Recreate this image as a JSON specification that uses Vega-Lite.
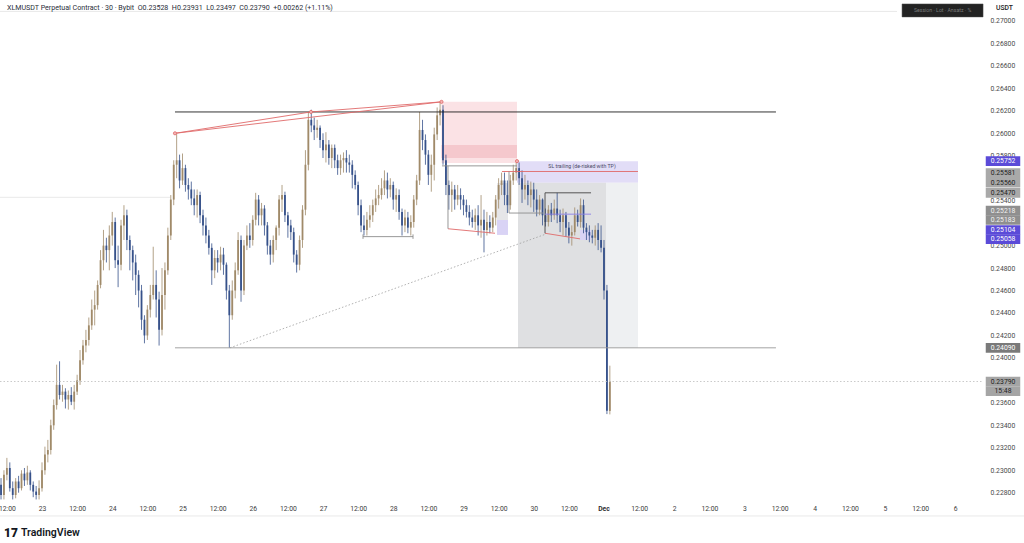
{
  "$schema": "https://vega.github.io/schema/vega-lite/v6.json",
  "description": "XLMUSDT perpetual, 30m, Bybit - TradingView style snapshot with drawings",
  "width": 983,
  "height": 488,
  "autosize": {"type": "none"},
  "padding": {"left": 0, "top": 12, "right": 41, "bottom": 43},
  "background": "#ffffff",
  "config": {"view": {"stroke": null}, "font": "Roboto"},
  "datasets": {
    "bars": [
      {"t":"2025-11-22T10:00:00Z","o":0.2287,"h":0.2293,"l":0.2274,"c":0.2278},
      {"t":"2025-11-22T11:00:00Z","o":0.2278,"h":0.2300,"l":0.2274,"c":0.2296},
      {"t":"2025-11-22T12:00:00Z","o":0.2296,"h":0.2311,"l":0.2291,"c":0.2302},
      {"t":"2025-11-22T13:00:00Z","o":0.2302,"h":0.2307,"l":0.2281,"c":0.2284},
      {"t":"2025-11-22T14:00:00Z","o":0.2284,"h":0.2290,"l":0.2274,"c":0.2278},
      {"t":"2025-11-22T15:00:00Z","o":0.2278,"h":0.2293,"l":0.2275,"c":0.2290},
      {"t":"2025-11-22T16:00:00Z","o":0.2290,"h":0.2295,"l":0.2280,"c":0.2284},
      {"t":"2025-11-22T17:00:00Z","o":0.2284,"h":0.2300,"l":0.2282,"c":0.2297},
      {"t":"2025-11-22T18:00:00Z","o":0.2297,"h":0.2302,"l":0.2286,"c":0.2291},
      {"t":"2025-11-22T19:00:00Z","o":0.2291,"h":0.2304,"l":0.2287,"c":0.2298},
      {"t":"2025-11-22T20:00:00Z","o":0.2298,"h":0.2300,"l":0.2282,"c":0.2287},
      {"t":"2025-11-22T21:00:00Z","o":0.2287,"h":0.2290,"l":0.2276,"c":0.2281},
      {"t":"2025-11-22T22:00:00Z","o":0.2281,"h":0.2286,"l":0.2274,"c":0.2278},
      {"t":"2025-11-22T23:00:00Z","o":0.2278,"h":0.2291,"l":0.2274,"c":0.2284},
      {"t":"2025-11-23T00:00:00Z","o":0.2284,"h":0.2307,"l":0.2281,"c":0.2300},
      {"t":"2025-11-23T01:00:00Z","o":0.2300,"h":0.2321,"l":0.2296,"c":0.2314},
      {"t":"2025-11-23T02:00:00Z","o":0.2314,"h":0.2327,"l":0.2307,"c":0.2318},
      {"t":"2025-11-23T03:00:00Z","o":0.2318,"h":0.2345,"l":0.2314,"c":0.2340},
      {"t":"2025-11-23T04:00:00Z","o":0.2340,"h":0.2363,"l":0.2336,"c":0.2358},
      {"t":"2025-11-23T05:00:00Z","o":0.2358,"h":0.2394,"l":0.2354,"c":0.2376},
      {"t":"2025-11-23T06:00:00Z","o":0.2376,"h":0.2397,"l":0.2363,"c":0.2367},
      {"t":"2025-11-23T07:00:00Z","o":0.2367,"h":0.2376,"l":0.2361,"c":0.2370},
      {"t":"2025-11-23T08:00:00Z","o":0.2370,"h":0.2373,"l":0.2355,"c":0.2363},
      {"t":"2025-11-23T09:00:00Z","o":0.2363,"h":0.2371,"l":0.2354,"c":0.2367},
      {"t":"2025-11-23T10:00:00Z","o":0.2367,"h":0.2374,"l":0.2358,"c":0.2361},
      {"t":"2025-11-23T11:00:00Z","o":0.2361,"h":0.2376,"l":0.2354,"c":0.2370},
      {"t":"2025-11-23T12:00:00Z","o":0.2370,"h":0.2385,"l":0.2367,"c":0.2380},
      {"t":"2025-11-23T13:00:00Z","o":0.2380,"h":0.2407,"l":0.2376,"c":0.2398},
      {"t":"2025-11-23T14:00:00Z","o":0.2398,"h":0.2416,"l":0.2394,"c":0.2411},
      {"t":"2025-11-23T15:00:00Z","o":0.2411,"h":0.2425,"l":0.2405,"c":0.2416},
      {"t":"2025-11-23T16:00:00Z","o":0.2416,"h":0.2436,"l":0.2411,"c":0.2429},
      {"t":"2025-11-23T17:00:00Z","o":0.2429,"h":0.2452,"l":0.2425,"c":0.2443},
      {"t":"2025-11-23T18:00:00Z","o":0.2443,"h":0.2460,"l":0.2429,"c":0.2447},
      {"t":"2025-11-23T19:00:00Z","o":0.2447,"h":0.2469,"l":0.2443,"c":0.2465},
      {"t":"2025-11-23T20:00:00Z","o":0.2465,"h":0.2496,"l":0.2462,"c":0.2487},
      {"t":"2025-11-23T21:00:00Z","o":0.2487,"h":0.2514,"l":0.2478,"c":0.2500},
      {"t":"2025-11-23T22:00:00Z","o":0.2500,"h":0.2507,"l":0.2485,"c":0.2496},
      {"t":"2025-11-23T23:00:00Z","o":0.2496,"h":0.2518,"l":0.2478,"c":0.2509},
      {"t":"2025-11-24T00:00:00Z","o":0.2509,"h":0.2530,"l":0.2500,"c":0.2521},
      {"t":"2025-11-24T01:00:00Z","o":0.2521,"h":0.2525,"l":0.2480,"c":0.2487},
      {"t":"2025-11-24T02:00:00Z","o":0.2487,"h":0.2500,"l":0.2463,"c":0.2483},
      {"t":"2025-11-24T03:00:00Z","o":0.2483,"h":0.2523,"l":0.2478,"c":0.2518},
      {"t":"2025-11-24T04:00:00Z","o":0.2518,"h":0.2536,"l":0.2505,"c":0.2527},
      {"t":"2025-11-24T05:00:00Z","o":0.2527,"h":0.2532,"l":0.2496,"c":0.2505},
      {"t":"2025-11-24T06:00:00Z","o":0.2505,"h":0.2509,"l":0.2478,"c":0.2496},
      {"t":"2025-11-24T07:00:00Z","o":0.2496,"h":0.2500,"l":0.2469,"c":0.2485},
      {"t":"2025-11-24T08:00:00Z","o":0.2485,"h":0.2492,"l":0.2456,"c":0.2474},
      {"t":"2025-11-24T09:00:00Z","o":0.2474,"h":0.2478,"l":0.2445,"c":0.2460},
      {"t":"2025-11-24T10:00:00Z","o":0.2460,"h":0.2465,"l":0.2425,"c":0.2434},
      {"t":"2025-11-24T11:00:00Z","o":0.2434,"h":0.2438,"l":0.2413,"c":0.2420},
      {"t":"2025-11-24T12:00:00Z","o":0.2420,"h":0.2447,"l":0.2416,"c":0.2443},
      {"t":"2025-11-24T13:00:00Z","o":0.2443,"h":0.2465,"l":0.2436,"c":0.2456},
      {"t":"2025-11-24T14:00:00Z","o":0.2456,"h":0.2499,"l":0.2452,"c":0.2465},
      {"t":"2025-11-24T15:00:00Z","o":0.2465,"h":0.2478,"l":0.2436,"c":0.2452},
      {"t":"2025-11-24T16:00:00Z","o":0.2452,"h":0.2459,"l":0.2411,"c":0.2425},
      {"t":"2025-11-24T17:00:00Z","o":0.2425,"h":0.2480,"l":0.2420,"c":0.2456},
      {"t":"2025-11-24T18:00:00Z","o":0.2456,"h":0.2485,"l":0.2443,"c":0.2478},
      {"t":"2025-11-24T19:00:00Z","o":0.2478,"h":0.2516,"l":0.2474,"c":0.2509},
      {"t":"2025-11-24T20:00:00Z","o":0.2509,"h":0.2545,"l":0.2505,"c":0.2541},
      {"t":"2025-11-24T21:00:00Z","o":0.2541,"h":0.2576,"l":0.2536,"c":0.2572},
      {"t":"2025-11-24T22:00:00Z","o":0.2572,"h":0.2600,"l":0.2560,"c":0.2576},
      {"t":"2025-11-24T23:00:00Z","o":0.2576,"h":0.2581,"l":0.2551,"c":0.2558},
      {"t":"2025-11-25T00:00:00Z","o":0.2558,"h":0.2582,"l":0.2554,"c":0.2569},
      {"t":"2025-11-25T01:00:00Z","o":0.2569,"h":0.2572,"l":0.2548,"c":0.2554},
      {"t":"2025-11-25T02:00:00Z","o":0.2554,"h":0.2560,"l":0.2541,"c":0.2550},
      {"t":"2025-11-25T03:00:00Z","o":0.2550,"h":0.2557,"l":0.2536,"c":0.2542},
      {"t":"2025-11-25T04:00:00Z","o":0.2542,"h":0.2550,"l":0.2527,"c":0.2536},
      {"t":"2025-11-25T05:00:00Z","o":0.2536,"h":0.2550,"l":0.2525,"c":0.2545},
      {"t":"2025-11-25T06:00:00Z","o":0.2545,"h":0.2548,"l":0.2520,"c":0.2527},
      {"t":"2025-11-25T07:00:00Z","o":0.2527,"h":0.2532,"l":0.2509,"c":0.2518},
      {"t":"2025-11-25T08:00:00Z","o":0.2518,"h":0.2525,"l":0.2502,"c":0.2509},
      {"t":"2025-11-25T09:00:00Z","o":0.2509,"h":0.2514,"l":0.2492,"c":0.2498},
      {"t":"2025-11-25T10:00:00Z","o":0.2498,"h":0.2502,"l":0.2465,"c":0.2478},
      {"t":"2025-11-25T11:00:00Z","o":0.2478,"h":0.2496,"l":0.2471,"c":0.2489},
      {"t":"2025-11-25T12:00:00Z","o":0.2489,"h":0.2496,"l":0.2476,"c":0.2485},
      {"t":"2025-11-25T13:00:00Z","o":0.2485,"h":0.2499,"l":0.2478,"c":0.2492},
      {"t":"2025-11-25T14:00:00Z","o":0.2492,"h":0.2498,"l":0.2474,"c":0.2483},
      {"t":"2025-11-25T15:00:00Z","o":0.2483,"h":0.2485,"l":0.2452,"c":0.2460},
      {"t":"2025-11-25T16:00:00Z","o":0.2460,"h":0.2465,"l":0.2409,"c":0.2438},
      {"t":"2025-11-25T17:00:00Z","o":0.2438,"h":0.2469,"l":0.2434,"c":0.2460},
      {"t":"2025-11-25T18:00:00Z","o":0.2460,"h":0.2485,"l":0.2453,"c":0.2478},
      {"t":"2025-11-25T19:00:00Z","o":0.2478,"h":0.2512,"l":0.2474,"c":0.2505},
      {"t":"2025-11-25T20:00:00Z","o":0.2505,"h":0.2509,"l":0.2450,"c":0.2460},
      {"t":"2025-11-25T21:00:00Z","o":0.2460,"h":0.2505,"l":0.2456,"c":0.2500},
      {"t":"2025-11-25T22:00:00Z","o":0.2500,"h":0.2518,"l":0.2496,"c":0.2509},
      {"t":"2025-11-25T23:00:00Z","o":0.2509,"h":0.2520,"l":0.2498,"c":0.2505},
      {"t":"2025-11-26T00:00:00Z","o":0.2505,"h":0.2527,"l":0.2500,"c":0.2523},
      {"t":"2025-11-26T01:00:00Z","o":0.2523,"h":0.2547,"l":0.2518,"c":0.2541},
      {"t":"2025-11-26T02:00:00Z","o":0.2541,"h":0.2545,"l":0.2518,"c":0.2527},
      {"t":"2025-11-26T03:00:00Z","o":0.2527,"h":0.2538,"l":0.2518,"c":0.2533},
      {"t":"2025-11-26T04:00:00Z","o":0.2533,"h":0.2536,"l":0.2509,"c":0.2518},
      {"t":"2025-11-26T05:00:00Z","o":0.2518,"h":0.2521,"l":0.2492,"c":0.2500},
      {"t":"2025-11-26T06:00:00Z","o":0.2500,"h":0.2505,"l":0.2483,"c":0.2492},
      {"t":"2025-11-26T07:00:00Z","o":0.2492,"h":0.2509,"l":0.2485,"c":0.2505},
      {"t":"2025-11-26T08:00:00Z","o":0.2505,"h":0.2518,"l":0.2496,"c":0.2516},
      {"t":"2025-11-26T09:00:00Z","o":0.2516,"h":0.2545,"l":0.2509,"c":0.2541},
      {"t":"2025-11-26T10:00:00Z","o":0.2541,"h":0.2554,"l":0.2530,"c":0.2545},
      {"t":"2025-11-26T11:00:00Z","o":0.2545,"h":0.2548,"l":0.2521,"c":0.2527},
      {"t":"2025-11-26T12:00:00Z","o":0.2527,"h":0.2530,"l":0.2507,"c":0.2518},
      {"t":"2025-11-26T13:00:00Z","o":0.2518,"h":0.2523,"l":0.2505,"c":0.2512},
      {"t":"2025-11-26T14:00:00Z","o":0.2512,"h":0.2516,"l":0.2485,"c":0.2492},
      {"t":"2025-11-26T15:00:00Z","o":0.2492,"h":0.2496,"l":0.2476,"c":0.2483},
      {"t":"2025-11-26T16:00:00Z","o":0.2483,"h":0.2509,"l":0.2478,"c":0.2505},
      {"t":"2025-11-26T17:00:00Z","o":0.2505,"h":0.2536,"l":0.2498,"c":0.2532},
      {"t":"2025-11-26T18:00:00Z","o":0.2532,"h":0.2585,"l":0.2527,"c":0.2572},
      {"t":"2025-11-26T19:00:00Z","o":0.2572,"h":0.2619,"l":0.2567,"c":0.2612},
      {"t":"2025-11-26T20:00:00Z","o":0.2612,"h":0.2621,"l":0.2601,"c":0.2607},
      {"t":"2025-11-26T21:00:00Z","o":0.2607,"h":0.2614,"l":0.2594,"c":0.2603},
      {"t":"2025-11-26T22:00:00Z","o":0.2603,"h":0.2612,"l":0.2596,"c":0.2605},
      {"t":"2025-11-26T23:00:00Z","o":0.2605,"h":0.2607,"l":0.2587,"c":0.2594},
      {"t":"2025-11-27T00:00:00Z","o":0.2594,"h":0.2600,"l":0.2578,"c":0.2585},
      {"t":"2025-11-27T01:00:00Z","o":0.2585,"h":0.2601,"l":0.2574,"c":0.2590},
      {"t":"2025-11-27T02:00:00Z","o":0.2590,"h":0.2594,"l":0.2572,"c":0.2578},
      {"t":"2025-11-27T03:00:00Z","o":0.2578,"h":0.2590,"l":0.2569,"c":0.2587},
      {"t":"2025-11-27T04:00:00Z","o":0.2587,"h":0.2590,"l":0.2569,"c":0.2576},
      {"t":"2025-11-27T05:00:00Z","o":0.2576,"h":0.2581,"l":0.2563,"c":0.2569},
      {"t":"2025-11-27T06:00:00Z","o":0.2569,"h":0.2581,"l":0.2563,"c":0.2576},
      {"t":"2025-11-27T07:00:00Z","o":0.2576,"h":0.2583,"l":0.2565,"c":0.2578},
      {"t":"2025-11-27T08:00:00Z","o":0.2578,"h":0.2585,"l":0.2565,"c":0.2574},
      {"t":"2025-11-27T09:00:00Z","o":0.2574,"h":0.2581,"l":0.2565,"c":0.2572},
      {"t":"2025-11-27T10:00:00Z","o":0.2572,"h":0.2576,"l":0.2551,"c":0.2563},
      {"t":"2025-11-27T11:00:00Z","o":0.2563,"h":0.2567,"l":0.2550,"c":0.2554},
      {"t":"2025-11-27T12:00:00Z","o":0.2554,"h":0.2557,"l":0.2527,"c":0.2536},
      {"t":"2025-11-27T13:00:00Z","o":0.2536,"h":0.2541,"l":0.2512,"c":0.2518},
      {"t":"2025-11-27T14:00:00Z","o":0.2518,"h":0.2527,"l":0.2509,"c":0.2514},
      {"t":"2025-11-27T15:00:00Z","o":0.2514,"h":0.2530,"l":0.2509,"c":0.2523},
      {"t":"2025-11-27T16:00:00Z","o":0.2523,"h":0.2536,"l":0.2516,"c":0.2527},
      {"t":"2025-11-27T17:00:00Z","o":0.2527,"h":0.2541,"l":0.2521,"c":0.2536},
      {"t":"2025-11-27T18:00:00Z","o":0.2536,"h":0.2550,"l":0.2530,"c":0.2542},
      {"t":"2025-11-27T19:00:00Z","o":0.2542,"h":0.2554,"l":0.2536,"c":0.2545},
      {"t":"2025-11-27T20:00:00Z","o":0.2545,"h":0.2560,"l":0.2541,"c":0.2551},
      {"t":"2025-11-27T21:00:00Z","o":0.2551,"h":0.2567,"l":0.2545,"c":0.2558},
      {"t":"2025-11-27T22:00:00Z","o":0.2558,"h":0.2565,"l":0.2542,"c":0.2550},
      {"t":"2025-11-27T23:00:00Z","o":0.2550,"h":0.2560,"l":0.2543,"c":0.2554},
      {"t":"2025-11-28T00:00:00Z","o":0.2554,"h":0.2557,"l":0.2532,"c":0.2541},
      {"t":"2025-11-28T01:00:00Z","o":0.2541,"h":0.2551,"l":0.2530,"c":0.2545},
      {"t":"2025-11-28T02:00:00Z","o":0.2545,"h":0.2550,"l":0.2523,"c":0.2530},
      {"t":"2025-11-28T03:00:00Z","o":0.2530,"h":0.2533,"l":0.2509,"c":0.2518},
      {"t":"2025-11-28T04:00:00Z","o":0.2518,"h":0.2532,"l":0.2512,"c":0.2525},
      {"t":"2025-11-28T05:00:00Z","o":0.2525,"h":0.2530,"l":0.2511,"c":0.2516},
      {"t":"2025-11-28T06:00:00Z","o":0.2516,"h":0.2527,"l":0.2509,"c":0.2521},
      {"t":"2025-11-28T07:00:00Z","o":0.2521,"h":0.2545,"l":0.2516,"c":0.2541},
      {"t":"2025-11-28T08:00:00Z","o":0.2541,"h":0.2563,"l":0.2536,"c":0.2558},
      {"t":"2025-11-28T09:00:00Z","o":0.2558,"h":0.2619,"l":0.2554,"c":0.2603},
      {"t":"2025-11-28T10:00:00Z","o":0.2603,"h":0.2612,"l":0.2585,"c":0.2594},
      {"t":"2025-11-28T11:00:00Z","o":0.2594,"h":0.2599,"l":0.2572,"c":0.2581},
      {"t":"2025-11-28T12:00:00Z","o":0.2581,"h":0.2585,"l":0.2554,"c":0.2563},
      {"t":"2025-11-28T13:00:00Z","o":0.2563,"h":0.2581,"l":0.2548,"c":0.2572},
      {"t":"2025-11-28T14:00:00Z","o":0.2572,"h":0.2605,"l":0.2558,"c":0.2599},
      {"t":"2025-11-28T15:00:00Z","o":0.2599,"h":0.2623,"l":0.2594,"c":0.2616},
      {"t":"2025-11-28T16:00:00Z","o":0.2616,"h":0.2628,"l":0.2607,"c":0.2621},
      {"t":"2025-11-28T17:00:00Z","o":0.2621,"h":0.2625,"l":0.2572,"c":0.2576},
      {"t":"2025-11-28T18:00:00Z","o":0.2576,"h":0.2581,"l":0.2545,"c":0.2554},
      {"t":"2025-11-28T19:00:00Z","o":0.2554,"h":0.2558,"l":0.2532,"c":0.2545},
      {"t":"2025-11-28T20:00:00Z","o":0.2545,"h":0.2557,"l":0.2530,"c":0.2550},
      {"t":"2025-11-28T21:00:00Z","o":0.2550,"h":0.2554,"l":0.2532,"c":0.2541},
      {"t":"2025-11-28T22:00:00Z","o":0.2541,"h":0.2554,"l":0.2536,"c":0.2545},
      {"t":"2025-11-28T23:00:00Z","o":0.2545,"h":0.2551,"l":0.2532,"c":0.2541},
      {"t":"2025-11-29T00:00:00Z","o":0.2541,"h":0.2545,"l":0.2527,"c":0.2536},
      {"t":"2025-11-29T01:00:00Z","o":0.2536,"h":0.2541,"l":0.2525,"c":0.2530},
      {"t":"2025-11-29T02:00:00Z","o":0.2530,"h":0.2536,"l":0.2518,"c":0.2525},
      {"t":"2025-11-29T03:00:00Z","o":0.2525,"h":0.2532,"l":0.2516,"c":0.2521},
      {"t":"2025-11-29T04:00:00Z","o":0.2521,"h":0.2533,"l":0.2514,"c":0.2527},
      {"t":"2025-11-29T05:00:00Z","o":0.2527,"h":0.2536,"l":0.2509,"c":0.2518},
      {"t":"2025-11-29T06:00:00Z","o":0.2518,"h":0.2545,"l":0.2507,"c":0.2523},
      {"t":"2025-11-29T07:00:00Z","o":0.2523,"h":0.2532,"l":0.2494,"c":0.2514},
      {"t":"2025-11-29T08:00:00Z","o":0.2514,"h":0.2530,"l":0.2509,"c":0.2521},
      {"t":"2025-11-29T09:00:00Z","o":0.2521,"h":0.2527,"l":0.2511,"c":0.2516},
      {"t":"2025-11-29T10:00:00Z","o":0.2516,"h":0.2530,"l":0.2512,"c":0.2525},
      {"t":"2025-11-29T11:00:00Z","o":0.2525,"h":0.2545,"l":0.2518,"c":0.2541},
      {"t":"2025-11-29T12:00:00Z","o":0.2541,"h":0.2560,"l":0.2533,"c":0.2554},
      {"t":"2025-11-29T13:00:00Z","o":0.2554,"h":0.2565,"l":0.2545,"c":0.2558},
      {"t":"2025-11-29T14:00:00Z","o":0.2558,"h":0.2565,"l":0.2536,"c":0.2545},
      {"t":"2025-11-29T15:00:00Z","o":0.2545,"h":0.2558,"l":0.2529,"c":0.2536},
      {"t":"2025-11-29T16:00:00Z","o":0.2536,"h":0.2563,"l":0.2532,"c":0.2558},
      {"t":"2025-11-29T17:00:00Z","o":0.2558,"h":0.2572,"l":0.2554,"c":0.2565},
      {"t":"2025-11-29T18:00:00Z","o":0.2565,"h":0.2574,"l":0.2558,"c":0.2569},
      {"t":"2025-11-29T19:00:00Z","o":0.2569,"h":0.2574,"l":0.2554,"c":0.2560},
      {"t":"2025-11-29T20:00:00Z","o":0.2560,"h":0.2567,"l":0.2538,"c":0.2550},
      {"t":"2025-11-29T21:00:00Z","o":0.2550,"h":0.2563,"l":0.2541,"c":0.2554},
      {"t":"2025-11-29T22:00:00Z","o":0.2554,"h":0.2558,"l":0.2536,"c":0.2545},
      {"t":"2025-11-29T23:00:00Z","o":0.2545,"h":0.2557,"l":0.2534,"c":0.2550},
      {"t":"2025-11-30T00:00:00Z","o":0.2550,"h":0.2556,"l":0.2530,"c":0.2541},
      {"t":"2025-11-30T01:00:00Z","o":0.2541,"h":0.2550,"l":0.2526,"c":0.2532},
      {"t":"2025-11-30T02:00:00Z","o":0.2532,"h":0.2545,"l":0.2527,"c":0.2541},
      {"t":"2025-11-30T03:00:00Z","o":0.2541,"h":0.2542,"l":0.2518,"c":0.2527},
      {"t":"2025-11-30T04:00:00Z","o":0.2527,"h":0.2533,"l":0.2517,"c":0.2521},
      {"t":"2025-11-30T05:00:00Z","o":0.2521,"h":0.2536,"l":0.2517,"c":0.2532},
      {"t":"2025-11-30T06:00:00Z","o":0.2532,"h":0.2538,"l":0.2521,"c":0.2527},
      {"t":"2025-11-30T07:00:00Z","o":0.2527,"h":0.2541,"l":0.2523,"c":0.2533},
      {"t":"2025-11-30T08:00:00Z","o":0.2533,"h":0.2547,"l":0.2520,"c":0.2527},
      {"t":"2025-11-30T09:00:00Z","o":0.2527,"h":0.2532,"l":0.2512,"c":0.2521},
      {"t":"2025-11-30T10:00:00Z","o":0.2521,"h":0.2533,"l":0.2509,"c":0.2527},
      {"t":"2025-11-30T11:00:00Z","o":0.2527,"h":0.2530,"l":0.2508,"c":0.2516},
      {"t":"2025-11-30T12:00:00Z","o":0.2516,"h":0.2521,"l":0.2502,"c":0.2509},
      {"t":"2025-11-30T13:00:00Z","o":0.2509,"h":0.2518,"l":0.2500,"c":0.2512},
      {"t":"2025-11-30T14:00:00Z","o":0.2512,"h":0.2534,"l":0.2509,"c":0.2527},
      {"t":"2025-11-30T15:00:00Z","o":0.2527,"h":0.2532,"l":0.2517,"c":0.2521},
      {"t":"2025-11-30T16:00:00Z","o":0.2521,"h":0.2542,"l":0.2516,"c":0.2536},
      {"t":"2025-11-30T17:00:00Z","o":0.2536,"h":0.2541,"l":0.2511,"c":0.2516},
      {"t":"2025-11-30T18:00:00Z","o":0.2516,"h":0.2520,"l":0.2505,"c":0.2512},
      {"t":"2025-11-30T19:00:00Z","o":0.2512,"h":0.2518,"l":0.2503,"c":0.2509},
      {"t":"2025-11-30T20:00:00Z","o":0.2509,"h":0.2514,"l":0.2502,"c":0.2507},
      {"t":"2025-11-30T21:00:00Z","o":0.2507,"h":0.2518,"l":0.2500,"c":0.2514},
      {"t":"2025-11-30T22:00:00Z","o":0.2514,"h":0.2520,"l":0.2496,"c":0.2505},
      {"t":"2025-11-30T23:00:00Z","o":0.2505,"h":0.2518,"l":0.2494,"c":0.2498},
      {"t":"2025-12-01T00:00:00Z","o":0.2498,"h":0.2505,"l":0.2452,"c":0.2460},
      {"t":"2025-12-01T01:00:00Z","o":0.2460,"h":0.2465,"l":0.2350,"c":0.2353},
      {"t":"2025-12-01T02:00:00Z","o":0.23528,"h":0.23931,"l":0.23497,"c":0.2379}
    ],
    "zones": [
      {"k":"pinkL","t":"2025-11-28T16:29:00Z","t2":"2025-11-29T18:17:00Z","p":0.2628,"p2":0.25735},
      {"k":"pinkD","t":"2025-11-28T16:29:00Z","t2":"2025-11-29T18:17:00Z","p":0.25895,"p2":0.2578},
      {"k":"sl","t":"2025-11-29T18:17:00Z","t2":"2025-12-01T11:37:00Z","p":0.25752,"p2":0.2556},
      {"k":"greyD","t":"2025-11-29T18:37:00Z","t2":"2025-12-01T00:42:00Z","p":0.2556,"p2":0.2409},
      {"k":"greyL","t":"2025-12-01T00:42:00Z","t2":"2025-12-01T11:37:00Z","p":0.2556,"p2":0.2409},
      {"k":"greyS","t":"2025-11-29T11:27:00Z","t2":"2025-11-29T15:12:00Z","p":0.25557,"p2":0.25228},
      {"k":"purS","t":"2025-11-29T11:27:00Z","t2":"2025-11-29T15:12:00Z","p":0.25228,"p2":0.25095},
      {"k":"purS","t":"2025-11-30T15:48:00Z","t2":"2025-11-30T19:34:00Z","p":0.25139,"p2":0.2505}
    ],
    "segs": [
      {"k":"blk","t":"2025-11-24T21:26:00Z","t2":"2025-12-03T10:45:00Z","p":0.2619,"p2":0.2619},
      {"k":"gry","t":"2025-11-24T21:26:00Z","t2":"2025-12-03T10:45:00Z","p":0.2409,"p2":0.2409},
      {"k":"red","t":"2025-11-24T21:26:00Z","t2":"2025-11-28T16:29:00Z","p":0.2600,"p2":0.2628},
      {"k":"red","t":"2025-11-24T21:26:00Z","t2":"2025-11-26T19:54:00Z","p":0.2600,"p2":0.2619},
      {"k":"red","t":"2025-11-26T19:54:00Z","t2":"2025-11-28T16:29:00Z","p":0.2619,"p2":0.2628},
      {"k":"red","t":"2025-11-29T13:09:00Z","t2":"2025-12-01T11:37:00Z","p":0.2566,"p2":0.2566},
      {"k":"red","t":"2025-11-28T18:42:00Z","t2":"2025-11-29T10:46:00Z","p":0.2515,"p2":0.2511},
      {"k":"red","t":"2025-11-30T03:51:00Z","t2":"2025-11-30T15:48:00Z","p":0.2511,"p2":0.2506},
      {"k":"lg","t":"2025-11-28T16:39:00Z","t2":"2025-11-29T18:17:00Z","p":0.2571,"p2":0.2571},
      {"k":"lg","t":"2025-11-28T18:42:00Z","t2":"2025-11-28T18:42:00Z","p":0.2571,"p2":0.2515},
      {"k":"lg","t":"2025-11-29T15:33:00Z","t2":"2025-11-29T15:33:00Z","p":0.2566,"p2":0.2529},
      {"k":"lg","t":"2025-11-29T15:33:00Z","t2":"2025-11-30T03:10:00Z","p":0.2529,"p2":0.2529},
      {"k":"lg","t":"2025-11-27T13:40:00Z","t2":"2025-11-28T06:45:00Z","p":0.2508,"p2":0.2508},
      {"k":"lg","t":"2025-11-27T13:40:00Z","t2":"2025-11-27T13:40:00Z","p":0.2510,"p2":0.2506},
      {"k":"lg","t":"2025-11-28T06:45:00Z","t2":"2025-11-28T06:45:00Z","p":0.2510,"p2":0.2506},
      {"k":"dk","t":"2025-11-30T03:51:00Z","t2":"2025-11-30T19:34:00Z","p":0.2547,"p2":0.2547},
      {"k":"dk","t":"2025-11-30T03:51:00Z","t2":"2025-11-30T03:51:00Z","p":0.2547,"p2":0.2511},
      {"k":"pu","t":"2025-11-30T03:51:00Z","t2":"2025-11-30T19:34:00Z","p":0.2528,"p2":0.2528},
      {"k":"fnt","t":"2025-11-22T09:39:00Z","t2":"2025-11-24T19:44:00Z","p":0.2543,"p2":0.2543},
      {"k":"fnt","t":"2025-11-22T09:39:00Z","t2":"2025-12-05T04:06:00Z","p":0.27085,"p2":0.27085},
      {"k":"fnt","t":"2025-11-22T09:39:00Z","t2":"2025-12-06T23:30:00Z","p":0.22593,"p2":0.22593},
      {"k":"dot","t":"2025-11-25T16:14:00Z","t2":"2025-11-30T03:51:00Z","p":0.2409,"p2":0.2510},
      {"k":"cur","t":"2025-11-22T09:39:00Z","t2":"2025-12-06T09:29:00Z","p":0.2379,"p2":0.2379}
    ],
    "pts": [
      {"t":"2025-11-24T21:26:00Z","p":0.2600},
      {"t":"2025-11-26T19:54:00Z","p":0.2619},
      {"t":"2025-11-28T16:29:00Z","p":0.2628},
      {"t":"2025-11-29T18:17:00Z","p":0.25752}
    ],
    "tags": [
      {"k":"pur","t":"2025-12-06T16:19:00Z","p":0.25752,"txt":"0.25752"},
      {"k":"g1","t":"2025-12-06T16:19:00Z","p":0.25646,"txt":"0.25581"},
      {"k":"g1","t":"2025-12-06T16:19:00Z","p":0.2556,"txt":"0.25560"},
      {"k":"g1","t":"2025-12-06T16:19:00Z","p":0.2547,"txt":"0.25470"},
      {"k":"g2","t":"2025-12-06T16:19:00Z","p":0.25311,"txt":"0.25218"},
      {"k":"g2","t":"2025-12-06T16:19:00Z","p":0.25228,"txt":"0.25183"},
      {"k":"pur","t":"2025-12-06T16:19:00Z","p":0.25139,"txt":"0.25104"},
      {"k":"pur","t":"2025-12-06T16:19:00Z","p":0.25057,"txt":"0.25058"},
      {"k":"g3","t":"2025-12-06T16:19:00Z","p":0.2409,"txt":"0.24090"},
      {"k":"cur","t":"2025-12-06T16:19:00Z","p":0.2379,"txt":"0.23790"},
      {"k":"cur","t":"2025-12-06T16:19:00Z","p":0.23705,"txt":"15:48"}
    ],
    "notes": [
      {"k":"hdr","t":"2025-11-22T12:02:00Z","p":0.2712,"txt":"XLMUSDT Perpetual Contract · 30 · Bybit \u00a0O0.23528 \u00a0H0.23931 \u00a0L0.23497 \u00a0C0.23790 \u00a0+0.00262 (+1.11%)"},
      {"k":"usdt","t":"2025-12-06T13:55:00Z","p":0.27116,"txt":"USDT"},
      {"k":"slt","t":"2025-11-30T16:29:00Z","p":0.25709,"txt":"SL trailing (de-risked with TP)"},
      {"k":"dbox","t":"2025-12-05T19:40:00Z","p":0.27094,"txt":"Session · Lot · Ansatz · %"},
      {"k":"dec","t":"2025-12-01T00:00:00Z","p":0.22655,"txt":"Dec"},
      {"k":"logo","t":"2025-11-22T11:01:00Z","p":0.22441,"txt":"17"},
      {"k":"tv","t":"2025-11-22T16:50:00Z","p":0.22441,"txt":"TradingView"}
    ]
  },
  "encoding": {
    "x": {
      "field": "t",
      "type": "temporal",
      "title": null,
      "scale": {
        "type": "utc",
        "padding": 0,
        "domain": [
          {"year": 2025, "month": 11, "date": 22, "hours": 9, "minutes": 39, "utc": true},
          {"year": 2025, "month": 12, "date": 6, "hours": 9, "minutes": 29, "utc": true}
        ]
      },
      "axis": {
        "values": [
          {"year": 2025, "month": 11, "date": 22, "hours": 12, "utc": true},
          {"year": 2025, "month": 11, "date": 23, "hours": 0, "utc": true},
          {"year": 2025, "month": 11, "date": 23, "hours": 12, "utc": true},
          {"year": 2025, "month": 11, "date": 24, "hours": 0, "utc": true},
          {"year": 2025, "month": 11, "date": 24, "hours": 12, "utc": true},
          {"year": 2025, "month": 11, "date": 25, "hours": 0, "utc": true},
          {"year": 2025, "month": 11, "date": 25, "hours": 12, "utc": true},
          {"year": 2025, "month": 11, "date": 26, "hours": 0, "utc": true},
          {"year": 2025, "month": 11, "date": 26, "hours": 12, "utc": true},
          {"year": 2025, "month": 11, "date": 27, "hours": 0, "utc": true},
          {"year": 2025, "month": 11, "date": 27, "hours": 12, "utc": true},
          {"year": 2025, "month": 11, "date": 28, "hours": 0, "utc": true},
          {"year": 2025, "month": 11, "date": 28, "hours": 12, "utc": true},
          {"year": 2025, "month": 11, "date": 29, "hours": 0, "utc": true},
          {"year": 2025, "month": 11, "date": 29, "hours": 12, "utc": true},
          {"year": 2025, "month": 11, "date": 30, "hours": 0, "utc": true},
          {"year": 2025, "month": 11, "date": 30, "hours": 12, "utc": true},
          {"year": 2025, "month": 12, "date": 1, "hours": 0, "utc": true},
          {"year": 2025, "month": 12, "date": 1, "hours": 12, "utc": true},
          {"year": 2025, "month": 12, "date": 2, "hours": 0, "utc": true},
          {"year": 2025, "month": 12, "date": 2, "hours": 12, "utc": true},
          {"year": 2025, "month": 12, "date": 3, "hours": 0, "utc": true},
          {"year": 2025, "month": 12, "date": 3, "hours": 12, "utc": true},
          {"year": 2025, "month": 12, "date": 4, "hours": 0, "utc": true},
          {"year": 2025, "month": 12, "date": 4, "hours": 12, "utc": true},
          {"year": 2025, "month": 12, "date": 5, "hours": 0, "utc": true},
          {"year": 2025, "month": 12, "date": 5, "hours": 12, "utc": true},
          {"year": 2025, "month": 12, "date": 6, "hours": 0, "utc": true}
        ],
        "labelExpr": "utchours(datum.value) == 12 ? '12:00' : (utcdate(datum.value) == 1 ? '' : utcFormat(datum.value, '%-d'))",
        "labelFlush": false,
        "labelOverlap": false,
        "domain": false,
        "ticks": false,
        "grid": false,
        "labelPadding": 5,
        "labelFontSize": 6.8,
        "labelColor": "#404040"
      }
    },
    "y": {
      "field": "p",
      "type": "quantitative",
      "title": null,
      "scale": {"domain": [0.22735, 0.2708], "nice": false, "zero": false},
      "axis": {
        "orient": "right",
        "values": [0.228, 0.230, 0.232, 0.234, 0.236, 0.240, 0.242, 0.244, 0.246, 0.248, 0.250, 0.254, 0.258, 0.260, 0.262, 0.264, 0.266, 0.268, 0.270],
        "format": ".5f",
        "domain": false,
        "ticks": false,
        "grid": false,
        "labelPadding": 7,
        "labelFontSize": 6.8,
        "labelColor": "#4a4a4a",
        "labelAlign": "left",
        "labelBaseline": "middle"
      }
    }
  },
  "layer": [
    {
      "data": {"name": "zones"},
      "mark": {"type": "rect"},
      "encoding": {
        "x2": {"field": "t2"},
        "y2": {"field": "p2"},
        "color": {
          "field": "k",
          "type": "nominal",
          "legend": null,
          "scale": {
            "domain": ["pinkL", "pinkD", "sl", "greyD", "greyL", "greyS", "purS"],
            "range": ["#fbe2e5", "#f5c8cd", "#e2ddf7", "#dfe0e2", "#eef0f2", "#e6e6e8", "#d9d3f5"]
          }
        }
      }
    },
    {
      "data": {"name": "bars"},
      "mark": {"type": "rule", "strokeWidth": 0.8},
      "encoding": {
        "y": {
          "field": "l", "type": "quantitative", "title": null,
          "scale": {"domain": [0.22735, 0.2708], "nice": false, "zero": false},
          "axis": {
            "orient": "right",
            "values": [0.228, 0.230, 0.232, 0.234, 0.236, 0.240, 0.242, 0.244, 0.246, 0.248, 0.250, 0.254, 0.258, 0.260, 0.262, 0.264, 0.266, 0.268, 0.270],
            "format": ".5f", "domain": false, "ticks": false, "grid": false, "labelPadding": 7,
            "labelFontSize": 6.8, "labelColor": "#4a4a4a", "labelAlign": "left", "labelBaseline": "middle"
          }
        },
        "y2": {"field": "h"},
        "color": {"condition": {"test": "datum.c >= datum.o", "value": "#a08a69"}, "value": "#36518a"}
      }
    },
    {
      "data": {"name": "bars"},
      "mark": {"type": "bar", "width": 1.8},
      "encoding": {
        "y": {
          "field": "o", "type": "quantitative", "title": null,
          "scale": {"domain": [0.22735, 0.2708], "nice": false, "zero": false},
          "axis": {
            "orient": "right",
            "values": [0.228, 0.230, 0.232, 0.234, 0.236, 0.240, 0.242, 0.244, 0.246, 0.248, 0.250, 0.254, 0.258, 0.260, 0.262, 0.264, 0.266, 0.268, 0.270],
            "format": ".5f", "domain": false, "ticks": false, "grid": false, "labelPadding": 7,
            "labelFontSize": 6.8, "labelColor": "#4a4a4a", "labelAlign": "left", "labelBaseline": "middle"
          }
        },
        "y2": {"field": "c"},
        "color": {"condition": {"test": "datum.c >= datum.o", "value": "#a08a69"}, "value": "#36518a"}
      }
    },
    {
      "data": {"name": "segs"},
      "transform": [{"filter": "datum.k != 'dot' && datum.k != 'cur'"}],
      "mark": {"type": "rule", "strokeWidth": 0.9},
      "encoding": {
        "x2": {"field": "t2"},
        "y2": {"field": "p2"},
        "color": {
          "field": "k",
          "type": "nominal",
          "legend": null,
          "scale": {
            "domain": ["blk", "gry", "red", "lg", "dk", "pu", "fnt"],
            "range": ["#1e1e1e", "#9a9a9a", "#e06a6a", "#8c8c8c", "#444444", "#8b80e6", "#e6e6e6"]
          }
        }
      }
    },
    {
      "data": {"name": "segs"},
      "transform": [{"filter": "datum.k == 'dot' || datum.k == 'cur'"}],
      "mark": {"type": "rule", "strokeWidth": 0.8, "strokeDash": [1.5, 2]},
      "encoding": {
        "x2": {"field": "t2"},
        "y2": {"field": "p2"},
        "color": {
          "field": "k",
          "type": "nominal",
          "legend": null,
          "scale": {"domain": ["dot", "cur"], "range": ["#9e9e9e", "#bdbdbd"]}
        }
      }
    },
    {
      "data": {"name": "pts"},
      "mark": {"type": "point", "filled": true, "size": 10, "color": "#f3b3b3", "stroke": "#e06a6a", "strokeWidth": 0.8, "opacity": 1},
      "encoding": {}
    },
    {
      "data": {"name": "tags"},
      "mark": {"type": "point", "filled": true, "shape": "M-1,-0.28H1V0.28H-1Z", "size": 1190, "opacity": 1, "strokeWidth": 0},
      "encoding": {
        "color": {
          "field": "k",
          "type": "nominal",
          "legend": null,
          "scale": {"domain": ["pur", "g1", "g2", "g3", "cur"], "range": ["#5b4bd8", "#a9a9a9", "#8f8f8f", "#7a7a7a", "#a5a5a5"]}
        }
      }
    },
    {
      "data": {"name": "tags"},
      "mark": {"type": "text", "fontSize": 6.8, "align": "center", "baseline": "middle"},
      "encoding": {
        "text": {"field": "txt"},
        "color": {
          "field": "k",
          "type": "nominal",
          "legend": null,
          "scale": {"domain": ["pur", "g1", "g2", "g3", "cur"], "range": ["#ffffff", "#222222", "#f2f2f2", "#ffffff", "#222222"]}
        }
      }
    },
    {
      "data": {"name": "notes"},
      "transform": [{"filter": "datum.k == 'dbox'"}],
      "mark": {"type": "point", "filled": true, "shape": "M-1,-0.16H1V0.16H-1Z", "size": 6561, "color": "#232323", "stroke": "#4a4a4a", "strokeWidth": 0.5, "opacity": 1},
      "encoding": {}
    },
    {
      "data": {"name": "notes"},
      "transform": [{"filter": "datum.k == 'dbox'"}],
      "mark": {"type": "text", "fontSize": 5.2, "color": "#7a7a7a", "align": "center", "baseline": "middle"},
      "encoding": {"text": {"field": "txt"}}
    },
    {
      "data": {"name": "notes"},
      "transform": [{"filter": "datum.k == 'hdr'"}],
      "mark": {"type": "text", "fontSize": 7.1, "color": "#2a2e39", "align": "left", "baseline": "middle"},
      "encoding": {"text": {"field": "txt"}}
    },
    {
      "data": {"name": "notes"},
      "transform": [{"filter": "datum.k == 'usdt'"}],
      "mark": {"type": "text", "fontSize": 6.8, "fontWeight": 500, "color": "#222222", "align": "left", "baseline": "middle"},
      "encoding": {"text": {"field": "txt"}}
    },
    {
      "data": {"name": "notes"},
      "transform": [{"filter": "datum.k == 'slt'"}],
      "mark": {"type": "text", "fontSize": 5.2, "color": "#4a4a66", "align": "center", "baseline": "middle"},
      "encoding": {"text": {"field": "txt"}}
    },
    {
      "data": {"name": "notes"},
      "transform": [{"filter": "datum.k == 'dec'"}],
      "mark": {"type": "text", "fontSize": 6.8, "fontWeight": "bold", "color": "#303030", "align": "center", "baseline": "middle"},
      "encoding": {"text": {"field": "txt"}}
    },
    {
      "data": {"name": "notes"},
      "transform": [{"filter": "datum.k == 'logo'"}],
      "mark": {"type": "text", "fontSize": 12, "fontWeight": 900, "color": "#131722", "align": "left", "baseline": "middle"},
      "encoding": {"text": {"field": "txt"}}
    },
    {
      "data": {"name": "notes"},
      "transform": [{"filter": "datum.k == 'tv'"}],
      "mark": {"type": "text", "fontSize": 10.5, "fontWeight": 600, "color": "#131722", "align": "left", "baseline": "middle"},
      "encoding": {"text": {"field": "txt"}}
    }
  ],
  "resolve": {"scale": {"color": "independent"}, "legend": {"color": "independent"}}
}
